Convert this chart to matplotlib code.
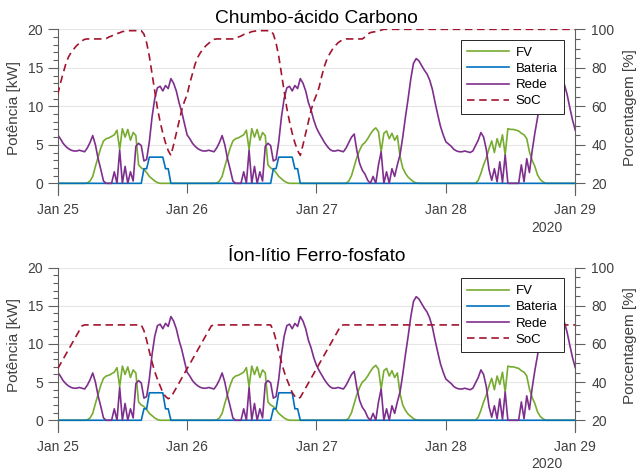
import matplotlib
matplotlib.use("Agg")
import matplotlib.pyplot as plt
import matplotlib.dates as mdates
from matplotlib.ticker import FixedLocator
import pandas as pd

plt.rcParams.update({
    "font.family": ["Liberation Sans", "DejaVu Sans"],
    "font.size": 10,
})

# ---------------------------------------------------------------------------
# Data: 30-min samples, Jan 25 00:00 -> Jan 29 00:00 (48 per day + last)
# ---------------------------------------------------------------------------
fv_jan25 = [0, 0, 0, 0, 0, 0, 0, 0, 0, 0,
            0, 0.05, 0.3, 0.9, 2.2, 3.4, 4.6, 5.5, 5.8, 5.9,
            6.1, 6.3, 6.9, 4.4, 7.1, 6.0, 7.0, 5.6, 6.6, 6.2,
            2.4, 2.0, 1.8, 1.4, 0.9, 0.6, 0.3, 0.1, 0, 0,
            0, 0, 0, 0, 0, 0, 0, 0]
fv_jan26 = [0, 0, 0, 0, 0, 0, 0, 0, 0, 0,
            0, 0.05, 0.3, 0.9, 2.2, 3.4, 4.6, 5.5, 5.8, 5.9,
            6.1, 6.3, 6.9, 4.4, 7.1, 6.0, 7.0, 5.6, 6.6, 6.2,
            2.4, 2.0, 1.8, 1.4, 0.9, 0.6, 0.3, 0.1, 0, 0,
            0, 0, 0, 0, 0, 0, 0, 0]
fv_jan27 = [0, 0, 0, 0, 0, 0, 0, 0, 0, 0,
            0, 0, 0.3, 1.0, 2.2, 3.4, 4.3, 5.0, 5.3, 5.8,
            6.4, 6.9, 7.2, 6.7, 4.1, 6.5, 6.8, 5.8, 6.5, 5.6,
            6.2, 3.5, 2.0, 1.3, 0.8, 0.5, 0.2, 0.05, 0, 0,
            0, 0, 0, 0, 0, 0, 0, 0]
fv_jan28 = [0, 0, 0, 0, 0, 0, 0, 0, 0, 0,
            0, 0, 0.4, 1.3, 2.4, 3.3, 4.5, 5.5, 4.0, 5.8,
            4.7, 6.3, 3.7, 7.1, 7.0, 7.0, 6.9, 6.8, 6.5, 6.3,
            5.8, 4.1, 3.0, 2.2, 1.1, 0.5, 0.2, 0, 0, 0,
            0, 0, 0, 0, 0, 0, 0, 0]
fv_end = [0]

rede_jan25 = [6.3, 5.8, 5.2, 4.8, 4.5, 4.3, 4.2, 4.2, 4.3, 4.2,
              4.1, 4.6, 5.3, 6.2, 5.0, 3.2, 1.8, 0.3, 0, 0,
              0, 1.5, 0, 4.3, 0, 2.2, 0, 1.5, 0.3, 4.8,
              5.2, 4.9, 2.9, 3.1, 5.4, 8.6, 11.0, 12.4, 12.6, 12.0,
              12.7, 12.3, 13.6, 13.0, 12.0, 10.5, 9.3, 7.8]
rede_jan26 = [6.3, 5.8, 5.2, 4.8, 4.5, 4.3, 4.2, 4.2, 4.3, 4.2,
              4.1, 4.6, 5.3, 6.2, 5.0, 3.2, 1.8, 0.3, 0, 0,
              0, 1.5, 0, 4.3, 0, 2.2, 0, 1.5, 0.3, 4.8,
              5.2, 4.9, 2.9, 3.1, 5.4, 8.6, 11.0, 12.4, 12.6, 12.0,
              12.7, 12.3, 13.6, 13.0, 12.0, 10.5, 9.5, 8.2]
rede_jan27 = [7.2, 6.5, 5.9, 5.3, 4.8, 4.4, 4.2, 4.2, 4.3, 4.2,
              4.1, 4.6, 5.3, 6.0, 6.4, 4.2, 2.6, 1.7, 1.2, 0.4,
              0, 0.9, 0, 2.4, 4.1, 0, 1.5, 0, 1.9, 0.9,
              2.4, 3.7, 6.0, 8.6, 11.0, 13.6, 15.6, 16.2, 15.9, 15.3,
              14.7, 14.2, 13.4, 12.2, 10.5, 8.9, 7.4, 6.3]
rede_jan28 = [5.4, 5.1, 4.8, 4.4, 4.2, 4.1, 4.1, 4.2, 4.1, 4.0,
              4.2, 4.9, 5.6, 6.6, 6.0, 4.4, 1.8, 0.4, 1.9, 0.2,
              2.8, 0.1, 3.7, 0, 0, 0, 0, 0, 2.4, 0.2,
              3.2, 1.4, 4.2, 6.5, 8.5, 10.8, 12.3, 13.2, 13.8, 14.2,
              14.4, 14.2, 13.9, 13.2, 12.8, 11.5, 9.8, 8.2]
rede_end = [6.9]

# Battery, lead-carbon (top) and LiFePO4 (bottom): same shape on days 1-2
bat_pb_day = [0] * 32 + [1.9, 1.9] + [3.4] * 6 + [1.9, 1.9] + [0] * 6
bat_li_day = [0] * 32 + [1.5, 1.5] + [3.6] * 6 + [1.5, 1.5] + [0] * 6
bat_idle_day = [0] * 48
bat_end = [0]

soc_pb_jan25 = [66, 72, 77, 82, 85.6, 88, 89.8, 91.5, 92.7, 94,
                94.8, 95, 95, 95, 95, 95, 95, 95, 95.2, 96,
                96.5, 97.3, 97.8, 98.2, 98.8, 99, 99.3, 99.3, 99.3, 99.3,
                99.3, 99.3, 97.5, 93, 86, 77, 68, 59, 52, 46,
                41, 37, 34.5, 40, 46, 52, 58, 62.5]
soc_pb_jan26 = list(soc_pb_jan25)
soc_pb_jan27 = [66, 70, 76, 81, 85, 87.5, 89.8, 91.5, 93, 94,
                94.5, 95, 95, 95, 95, 95, 95, 95, 96, 97.5,
                98.3, 98.6, 98.8, 99.2, 99.6, 100, 100, 100, 100, 100,
                100, 100, 100, 100, 100, 100, 100, 100, 100, 100,
                100, 100, 100, 100, 100, 100, 100, 100]
soc_pb_jan28 = [100] * 48
soc_pb_end = [100]

soc_li_jan25 = [47, 49.5, 52, 54.5, 57, 59.5, 62, 64.5, 67, 69.5,
                70, 70, 70, 70, 70, 70, 70, 70, 70, 70,
                70, 70, 70, 70, 70, 70, 70, 70, 70, 70,
                70, 70, 67, 62, 56, 50.5, 45.5, 41.5, 38, 34.5,
                32.5, 31.3, 32, 34.5, 37, 39.5, 42, 44.5]
soc_li_jan26 = list(soc_li_jan25)
soc_li_jan27 = [47, 49.5, 52, 54.5, 57, 59.5, 62, 64.5, 67, 69.5] + [70] * 38
soc_li_jan28 = [70] * 48
soc_li_end = [70]

times = pd.date_range("2020-01-25", "2020-01-29", freq="30min")
fv = fv_jan25 + fv_jan26 + fv_jan27 + fv_jan28 + fv_end
rede = rede_jan25 + rede_jan26 + rede_jan27 + rede_jan28 + rede_end
bat_pb = bat_pb_day + bat_pb_day + bat_idle_day + bat_idle_day + bat_end
bat_li = bat_li_day + bat_li_day + bat_idle_day + bat_idle_day + bat_end
soc_pb = soc_pb_jan25 + soc_pb_jan26 + soc_pb_jan27 + soc_pb_jan28 + soc_pb_end
soc_li = soc_li_jan25 + soc_li_jan26 + soc_li_jan27 + soc_li_jan28 + soc_li_end

C_FV = "#77AC30"
C_BAT = "#0072BD"
C_REDE = "#7E2F8E"
C_SOC = "#A2142F"
TXT = "#404040"
AXC = "#606060"


def draw_panel(ax, title, bat, soc):
    ax2 = ax.twinx()
    h1, = ax.plot(times, fv, color=C_FV, lw=1.2, label="FV")
    h2, = ax.plot(times, bat, color=C_BAT, lw=1.2, label="Bateria")
    h3, = ax.plot(times, rede, color=C_REDE, lw=1.2, label="Rede")
    h4, = ax2.plot(times, soc, color=C_SOC, lw=1.2, ls=(0, (4.5, 2.8)), label="SoC")

    ax.set_xlim(times[0], times[-1])
    ax.set_ylim(-1.5, 20)
    ax2.set_ylim(14, 100)

    ax.set_yticks([0, 5, 10, 15, 20])
    ax.yaxis.set_minor_locator(FixedLocator([v for v in range(1, 20) if v % 5]))
    ax2.set_yticks([20, 40, 60, 80, 100])
    ax2.yaxis.set_minor_locator(FixedLocator([v for v in range(25, 100, 5) if v % 20]))

    ax.xaxis.set_major_locator(mdates.DayLocator())
    ax.xaxis.set_major_formatter(mdates.DateFormatter("%b %d"))

    for s in ("top", "right"):
        ax.spines[s].set_visible(False)
    for s in ("top", "left", "bottom"):
        ax2.spines[s].set_visible(False)
    ax.spines["bottom"].set_position(("data", 0))
    ax.spines["bottom"].set_color("none")
    ax.spines["left"].set_color(AXC)
    ax2.spines["right"].set_color(AXC)
    ax.spines["left"].set_linewidth(0.8)
    ax2.spines["right"].set_linewidth(0.8)

    ax.tick_params(axis="x", direction="out", length=7, width=0.8, color=AXC,
                   labelcolor=TXT, labelsize=10, pad=7)
    ax.tick_params(axis="y", which="major", direction="out", length=7.5, width=0.8,
                   color=AXC, labelcolor=TXT, labelsize=10, pad=3)
    ax.tick_params(axis="y", which="minor", direction="out", length=3.6, width=0.8, color=AXC)
    ax2.tick_params(axis="y", which="major", direction="out", length=7.5, width=0.8,
                    color=AXC, labelcolor=TXT, labelsize=10, pad=4)
    ax2.tick_params(axis="y", which="minor", direction="out", length=3.6, width=0.8, color=AXC)

    ax.grid(axis="y", color="#e6e6e6", lw=0.8)
    ax.set_axisbelow(True)

    ax.set_ylabel("Potência [kW]", fontsize=11, color=TXT)
    ax.yaxis.set_label_coords(-0.071, 0.527)
    ax2.set_ylabel("Porcentagem [%]", fontsize=11, color=TXT)
    ax2.yaxis.set_label_coords(1.092, 0.527)

    ax.set_title(title, fontsize=13.8, color="black", pad=4.5)
    ax.text(0.945, -0.2, "2020", transform=ax.transAxes, ha="center", va="center",
            fontsize=10, color=TXT)

    leg = ax2.legend([h1, h2, h3, h4], ["FV", "Bateria", "Rede", "SoC"],
                     loc="upper right", bbox_to_anchor=(0.978, 0.935), borderaxespad=0,
                     fancybox=False, edgecolor="#262626", framealpha=1, fontsize=9.5,
                     handlelength=3.2, handletextpad=0.45, labelspacing=0.3, borderpad=0.5)
    leg.get_frame().set_linewidth(0.7)


fig = plt.figure(figsize=(6.36, 4.72), dpi=100)
ax_top = fig.add_axes([0.0907, 0.5871, 0.8138, 0.3508])
ax_bot = fig.add_axes([0.0907, 0.0854, 0.8138, 0.3474])

draw_panel(ax_top, "Chumbo-ácido Carbono", bat_pb, soc_pb)
draw_panel(ax_bot, "Íon-lítio Ferro-fosfato", bat_li, soc_li)

fig.savefig("out.png", dpi=100)
